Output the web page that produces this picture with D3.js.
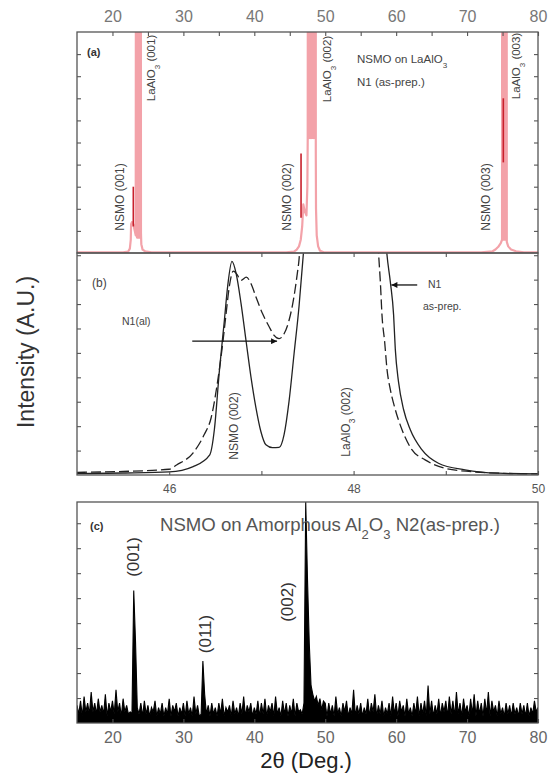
<!DOCTYPE html>
<html><head><meta charset="utf-8">
<script src="https://cdn.jsdelivr.net/npm/d3@7"></script>
<style>
body{margin:0;background:#fff}
text{font-family:"Liberation Sans",Arial,Helvetica,sans-serif}
</style>
</head><body>
<svg id="chart" width="548" height="773"></svg>
<script>
// ---------------- DATA ----------------
const topTickLabels = [20, 30, 40, 50, 60, 70, 80];
const bottomTickLabels = [20, 30, 40, 50, 60, 70, 80];
const bTickLabels = [46, 48, 50];

// Panel (a): NSMO on LaAlO3, N1 (as-prep.)  (2theta, intensity)
const aPinkTheta = [15,21.5,22.2,22.45,22.58,22.63,22.75,22.95,23.15,23.28,23.36,23.46,23.56,23.66,23.76,23.86,23.96,24.02,24.07,24.25,24.6,25.5,
  44.5,45.6,45.98,46.3,46.55,46.75,46.91,47.1,47.35,47.48,47.53,47.62,47.72,47.82,47.92,48.02,48.12,48.22,48.32,48.42,48.52,48.64,48.67,48.7,48.8,49.0,49.26,49.8,
  72,73.6,74.0,74.4,74.75,74.93,74.98,75.08,75.18,75.28,75.38,75.48,75.55,75.6,75.8,76.2,76.9,78,80];
const aPinkCounts = [0.3,0.3,0.6,2,6,13,14,13,10,8,400,7,400,7,400,7,400,9,4,1.5,0.8,0.3,
  0.3,0.6,1.5,3,6,12,22,19,17,30,51,400,52,400,52,400,52,400,52,400,52,400,45,20,8,3,1,0.3,
  0.3,0.8,1.6,2.8,4.5,6,400,6,400,6,400,6,400,5,3,1.6,0.8,0.3,0.3];
// NSMO film reflections (dark red) : position, low, high
const aNsmoTheta = [22.94, 46.59, 75.11];
const aNsmoLow = [12, 16, 41];
const aNsmoHigh = [30, 45, 70];

// Panel (b): zoom around (002)
const bSolidTheta = [45.0,45.5,46.0,46.26,46.44,46.49,46.544,46.598,46.634,46.681,46.725,46.779,46.833,46.887,46.94,46.995,47.049,47.12,47.192,47.246,47.3,47.354,47.408,47.45,47.5,47.6,47.9,48.2,48.3,48.362,48.398,48.434,48.452,48.488,48.542,48.614,48.74,48.92,49.208,49.568,50.0];
const bSolidI = [0.6,0.9,1.4,3.8,9.1,20.5,46.8,69.5,85,96.2,90.9,77.3,60.6,44.1,30.5,19.5,13.6,12.3,12.4,18.2,33.3,54.5,75.9,97,125,250,2000,250,140,99.2,87.1,72,56.8,41.7,29.5,20.5,11.4,5.3,2.3,0.8,0.5];
const bDashTheta = [45.0,45.5,46.0,46.08,46.26,46.38,46.455,46.526,46.58,46.617,46.652,46.695,46.733,46.78,46.836,46.89,46.94,47.012,47.084,47.138,47.192,47.246,47.3,47.354,47.39,47.408,47.45,47.55,47.85,48.15,48.24,48.272,48.29,48.308,48.337,48.362,48.398,48.452,48.524,48.632,48.776,48.992,49.28,49.568,50.0];
const bDashI = [1.2,1.6,2.6,4.5,10,18.2,25.8,42.4,59.1,72.7,84.9,91.8,90.5,87.7,89.1,85.9,80.3,72.7,66.8,62.9,61.4,63.6,69.7,80.5,90.9,97,130,300,3000,300,130,99.2,87.1,72,59.9,47.7,38.6,29.5,20.5,11.4,6.8,3,1.5,0.8,0.5];

// Panel (c): NSMO on amorphous Al2O3, scan from 15 deg, step 0.25 deg
const cStart = 15, cStep = 0.25;
const cCounts = [
 8,4,10,3,12,5,9,4,14,5,
 9,4,11,5,8,4,13,3,9,5,
 10,4,15,5,9,3,11,5,8,4,
 5,4,60,37,7,4,9,3,10,4,
 8,3,7,5,10,3,7,4,9,3,
 7,4,11,3,8,5,9,3,7,4,
 9,3,10,4,7,3,12,4,8,3,
 4,28,13,4,8,3,9,4,7,3,
 9,4,11,3,7,5,8,3,10,4,
 7,3,9,4,12,3,8,5,9,3,
 7,4,10,3,9,4,11,3,8,5,
 9,3,12,4,7,3,10,4,9,3,
 8,4,11,3,9,5,6,4,9,100,
 65,36,17,13,10,12,8,11,6,10,
 9,3,9,4,8,3,12,4,7,3,
 9,5,10,3,7,4,15,3,8,4,
 9,3,7,4,11,3,9,5,13,3,
 8,4,10,3,7,4,9,3,12,4,
 9,3,10,5,8,3,11,4,7,3,
 9,4,12,3,9,4,10,3,17,4,
 10,3,8,4,11,3,9,5,10,3,
 12,4,10,3,14,4,9,3,11,5,
 8,3,11,4,13,3,10,4,9,3,
 11,4,14,3,10,5,8,3,10,4,
 7,3,9,4,8,3,9,4,7,3,
 9,4,8,3,9,3,7,4,10,5,
 7];

// ---------------- LAYOUT ----------------
const svg = d3.select("#chart");
const L = 77, R = 538;
const A = {top: 32, bot: 253}, B = {top: 253, bot: 475}, C = {top: 502, bot: 723};
const frameCol = "#555", txtCol = "#444";

const xA = d3.scaleLinear().domain([15, 80]).range([L, R]);
const yA = d3.scaleLinear().domain([0, 100]).range([A.bot, A.top]);
const xB = d3.scaleLinear().domain([45, 50]).range([L, R]);
const yB = d3.scaleLinear().domain([0, 100]).range([B.bot, B.top]);
const xC = d3.scaleLinear().domain([15, 80]).range([L, R]);
const yC = d3.scaleLinear().domain([0, 100]).range([C.bot, C.top]);

const defs = svg.append("defs");
function clip(id, p) {
  defs.append("clipPath").attr("id", id).append("rect")
    .attr("x", L).attr("y", p.top).attr("width", R - L).attr("height", p.bot - p.top);
}
clip("ca", A); clip("cb", B); clip("cc", C);
defs.append("marker").attr("id", "arr").attr("viewBox", "0 0 10 10")
  .attr("refX", 10).attr("refY", 5).attr("markerWidth", 10).attr("markerHeight", 6)
  .attr("markerUnits", "userSpaceOnUse").attr("orient", "auto")
  .append("path").attr("d", "M0,0 L10,5 L0,10 Z").attr("fill", "#111");

// ---------- Panel (a) ----------
const gA = svg.append("g").attr("clip-path", "url(#ca)");
const aPink = aPinkTheta.map((t, i) => [t, aPinkCounts[i]]);
gA.append("path").datum(aPink)
  .attr("d", d3.line().x(d => xA(d[0])).y(d => yA(d[1])))
  .attr("fill", "none").attr("stroke", "#f3a2a9").attr("stroke-width", 2.2)
  .attr("stroke-linejoin", "round");
gA.selectAll("line.nsmo").data(aNsmoTheta).join("line").attr("class", "nsmo")
  .attr("x1", d => xA(d)).attr("x2", d => xA(d))
  .attr("y1", (d, i) => yA(aNsmoLow[i])).attr("y2", (d, i) => yA(aNsmoHigh[i]))
  .attr("stroke", "#c8202c").attr("stroke-width", 1.6);

// ---------- Panel (b) ----------
const gB = svg.append("g").attr("clip-path", "url(#cb)");
const lineB = d3.line().x(d => xB(d[0])).y(d => yB(d[1])).curve(d3.curveMonotoneX);
gB.append("path").datum(bSolidTheta.map((t, i) => [t, bSolidI[i]]))
  .attr("d", lineB).attr("fill", "none").attr("stroke", "#222").attr("stroke-width", 1.3);
gB.append("path").datum(bDashTheta.map((t, i) => [t, bDashI[i]]))
  .attr("d", lineB).attr("fill", "none").attr("stroke", "#222").attr("stroke-width", 1.3)
  .attr("stroke-dasharray", "10,4");
svg.append("line").attr("x1", xB(46.25)).attr("x2", xB(47.17)).attr("y1", yB(60.3)).attr("y2", yB(60.3))
  .attr("stroke", "#111").attr("stroke-width", 1.3).attr("marker-end", "url(#arr)");
svg.append("line").attr("x1", xB(48.69)).attr("x2", xB(48.41)).attr("y1", yB(85.6)).attr("y2", yB(85.6))
  .attr("stroke", "#111").attr("stroke-width", 1.3).attr("marker-end", "url(#arr)");

// ---------- Panel (c) ----------
const gC = svg.append("g").attr("clip-path", "url(#cc)");
const cData = cCounts.map((v, i) => [cStart + cStep * i, v]);
gC.append("path").datum(cData)
  .attr("d", d3.area().x(d => xC(d[0])).y0(yC(0)).y1(d => yC(d[1])))
  .attr("fill", "#000");
gC.append("path").datum(cData)
  .attr("d", d3.line().x(d => xC(d[0])).y(d => yC(d[1])))
  .attr("fill", "none").attr("stroke", "#000").attr("stroke-width", 1.1);

// ---------- Frames & ticks ----------
function frame(p) {
  svg.append("rect").attr("x", L).attr("y", p.top).attr("width", R - L).attr("height", p.bot - p.top)
    .attr("fill", "none").attr("stroke", frameCol).attr("stroke-width", 1.3);
}
function styleAxis(g) {
  g.select(".domain").remove();
  g.selectAll(".tick line").attr("stroke", frameCol).attr("stroke-width", 1.1);
}
function yTicks(scale, vals) {
  svg.append("g").attr("transform", `translate(${L},0)`)
    .call(d3.axisLeft(scale).tickValues(vals).tickSize(-4).tickFormat("")).call(styleAxis);
  svg.append("g").attr("transform", `translate(${R},0)`)
    .call(d3.axisRight(scale).tickValues(vals).tickSize(-4).tickFormat("")).call(styleAxis);
}
yTicks(yA, d3.range(10, 100, 10));
yTicks(yB, d3.range(11, 100, 11));
yTicks(yC, d3.range(11.3, 100, 11.3));

svg.append("g").attr("transform", `translate(0,${A.top})`)
  .call(d3.axisTop(xA).tickValues(d3.range(20, 81, 5)).tickSize(-4).tickPadding(10)
    .tickFormat(d => topTickLabels.includes(d) ? d : ""))
  .call(styleAxis)
  .call(g => g.selectAll("text").attr("font-size", 16).attr("fill", "#777").attr("font-family", "Liberation Sans, Arial, sans-serif"));

svg.append("g").attr("transform", `translate(0,${B.top})`)
  .call(d3.axisTop(xB).tickValues([46, 47, 48, 49]).tickSize(-4).tickFormat("")).call(styleAxis);
svg.append("g").attr("transform", `translate(0,${B.bot})`)
  .call(d3.axisBottom(xB).tickValues([46, 47, 48, 49, 50]).tickSize(-4).tickPadding(9.5)
    .tickFormat(d => bTickLabels.includes(d) ? d : ""))
  .call(styleAxis)
  .call(g => g.selectAll("text").attr("font-size", 12).attr("fill", "#555").attr("font-family", "Liberation Sans, Arial, sans-serif"));

svg.append("g").attr("transform", `translate(0,${C.bot})`)
  .call(d3.axisBottom(xC).tickValues(bottomTickLabels).tickSize(-4).tickPadding(8.6))
  .call(styleAxis)
  .call(g => g.selectAll("text").attr("font-size", 16).attr("fill", "#666").attr("font-family", "Liberation Sans, Arial, sans-serif"));

frame(A); frame(B); frame(C);

// ---------- Texts ----------
function label(x, y, parts, opts = {}) {
  const t = svg.append("text").attr("fill", opts.fill || txtCol)
    .attr("font-size", opts.size || 11).attr("font-weight", opts.weight || "normal")
    .attr("text-anchor", opts.anchor || "start");
  if (opts.rotate) {
    t.attr("transform", `translate(${x},${y}) rotate(-90)`).attr("dy", "0.35em");
  } else {
    t.attr("x", x).attr("y", y);
  }
  parts.forEach(p => {
    if (typeof p === "string") t.append("tspan").text(p);
    else t.append("tspan").attr("baseline-shift", "sub").attr("font-size", "70%").text(p.sub);
  });
  return t;
}
label(87, 56, ["(a)"], {size: 11, weight: "bold", fill: "#333"});
label(357, 63, ["NSMO on LaAlO", {sub: "3"}], {size: 11.5});
label(357, 86, ["N1 (as-prep.)"], {size: 11.5});
label(151, 68, ["LaAlO", {sub: "3"}, " (001)"], {rotate: true, anchor: "middle", size: 11.5});
label(120, 197, ["NSMO (001)"], {rotate: true, anchor: "middle", size: 12});
label(287, 197, ["NSMO (002)"], {rotate: true, anchor: "middle", size: 12});
label(327, 69, ["LaAlO", {sub: "3"}, " (002)"], {rotate: true, anchor: "middle", size: 11.5});
label(486, 197, ["NSMO (003)"], {rotate: true, anchor: "middle", size: 12});
label(516, 66, ["LaAlO", {sub: "3"}, " (003)"], {rotate: true, anchor: "middle", size: 11.5});
label(92, 287, ["(b)"], {size: 12});
label(122, 325, ["N1(al)"], {size: 10.5});
label(428, 288, ["N1"], {size: 10.5});
label(423, 310, ["as-prep."], {size: 10.5});
label(234, 426, ["NSMO (002)"], {rotate: true, anchor: "middle", size: 12});
label(346, 422, ["LaAlO", {sub: "3"}, " (002)"], {rotate: true, anchor: "middle", size: 12});
label(90, 530, ["(c)"], {size: 11, weight: "bold", fill: "#333"});
label(160, 531, ["NSMO on Amorphous Al", {sub: "2"}, "O", {sub: "3"}, " N2(as-prep.)"], {size: 18.6, fill: "#555"});
label(133, 557, ["(001)"], {rotate: true, anchor: "middle", size: 17, fill: "#333"});
label(205, 634, ["(011)"], {rotate: true, anchor: "middle", size: 17, fill: "#333"});
label(287, 602, ["(002)"], {rotate: true, anchor: "middle", size: 17, fill: "#333"});
label(306, 768, ["2θ (Deg.)"], {size: 22, anchor: "middle", fill: "#222"});
label(26, 352, ["Intensity (A.U.)"], {size: 23, anchor: "middle", rotate: true, fill: "#333"});
</script>
</body></html>
